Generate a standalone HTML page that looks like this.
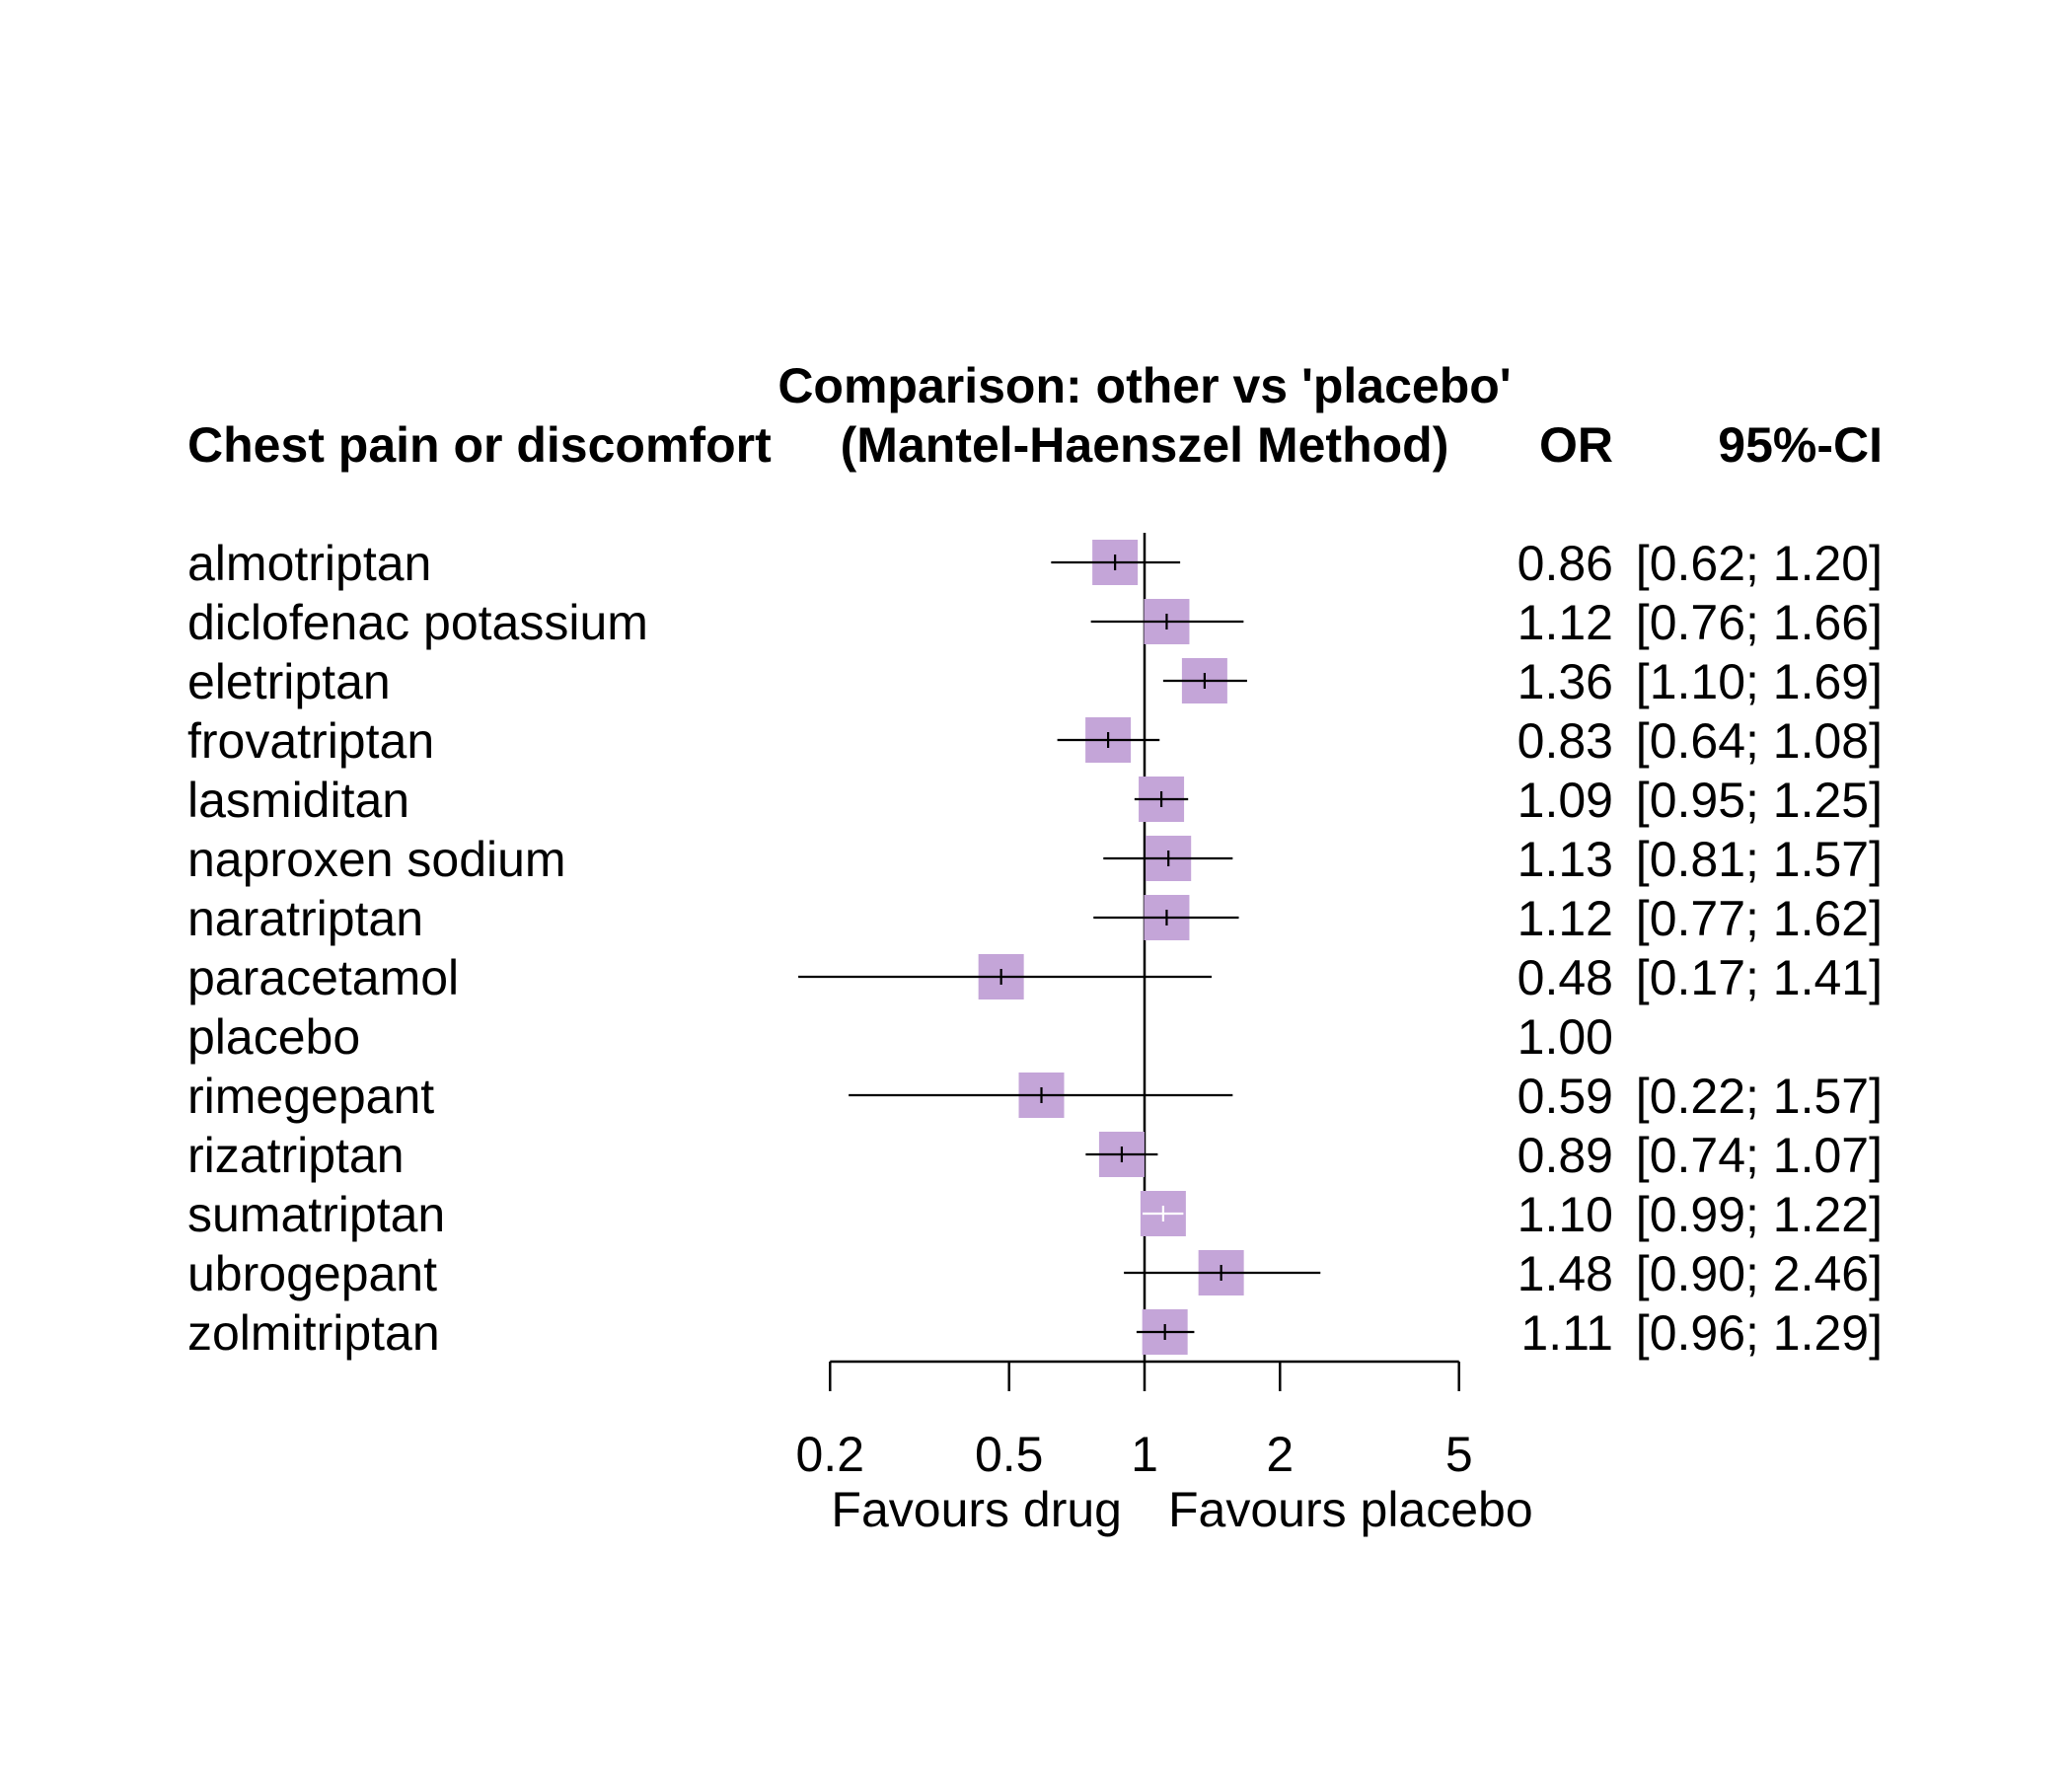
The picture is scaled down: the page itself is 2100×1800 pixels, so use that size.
<!DOCTYPE html>
<html><head><meta charset="utf-8">
<style>
html,body{margin:0;padding:0;background:#fff;}
svg{display:block;font-family:"Liberation Sans",Arial,sans-serif;}
</style></head>
<body>
<svg id="chart" width="2100" height="1800" viewBox="0 0 2100 1800" xmlns="http://www.w3.org/2000/svg">
<text x="1160" y="408" font-size="50" font-weight="bold" text-anchor="middle">Comparison: other vs 'placebo'</text>
<text x="190" y="468" font-size="50" font-weight="bold">Chest pain or discomfort</text>
<text x="1160" y="468" font-size="50" font-weight="bold" text-anchor="middle">(Mantel-Haenszel Method)</text>
<text x="1635" y="468" font-size="50" font-weight="bold" text-anchor="end">OR</text>
<text x="1908" y="468" font-size="50" font-weight="bold" text-anchor="end">95%-CI</text>
<g id="rows"></g>
<g id="axis"></g>
<text x="1137" y="1547" font-size="50" text-anchor="end">Favours drug</text>
<text x="1184" y="1547" font-size="50">Favours placebo</text>
</svg>
<script>
const treatments = ["almotriptan","diclofenac potassium","eletriptan","frovatriptan","lasmiditan","naproxen sodium","naratriptan","paracetamol","placebo","rimegepant","rizatriptan","sumatriptan","ubrogepant","zolmitriptan"];
const orValues = [0.86,1.12,1.36,0.83,1.09,1.13,1.12,0.48,1.00,0.59,0.89,1.10,1.48,1.11];
const ciLower = [0.62,0.76,1.10,0.64,0.95,0.81,0.77,0.17,null,0.22,0.74,0.99,0.90,0.96];
const ciUpper = [1.20,1.66,1.69,1.08,1.25,1.57,1.62,1.41,null,1.57,1.07,1.22,2.46,1.29];
const ticks = [0.2,0.5,1,2,5];
const tickLabels = ["0.2","0.5","1","2","5"];

const NS="http://www.w3.org/2000/svg";
const X0=1160, DEC=456, ROW0=570, STEP=60.0, BOX=46;
function xScale(v){return X0+Math.log10(v)*DEC;}
function yRow(i){return ROW0+i*STEP;}
function mk(tag,attrs,parent){const e=document.createElementNS(NS,tag);for(const k in attrs)e.setAttribute(k,attrs[k]);parent.appendChild(e);return e;}
const rows=document.getElementById('rows');
const axis=document.getElementById('axis');

const ref=mk('line',{x1:xScale(1),x2:xScale(1),y1:540,y2:1380,stroke:'#000','stroke-width':2.5},rows);



treatments.forEach((t,i)=>{
  const y=yRow(i);
  const lab=mk('text',{x:190,y:y+18,'font-size':50},rows);lab.textContent=t;
  
  
  const orT=mk('text',{x:1635,y:y+18,'font-size':50,'text-anchor':'end'},rows);orT.textContent=orValues[i].toFixed(2);
  
  
  if(ciLower[i]!==null){
    const ciT=mk('text',{x:1908,y:y+18,'font-size':50,'text-anchor':'end'},rows);
    ciT.textContent='['+ciLower[i].toFixed(2)+'; '+ciUpper[i].toFixed(2)+']';
    
    
    const cx=xScale(orValues[i]);
    const sq=mk('rect',{x:cx-BOX/2,y:y-BOX/2,width:BOX,height:BOX,fill:'#c4a5d8'},rows);
    
    
    const lx=xScale(ciLower[i]), ux=xScale(ciUpper[i]);
    const inside = lx>=cx-BOX/2 && ux<=cx+BOX/2;
    const col = inside?'#fff':'#000';
    const ln=mk('line',{x1:lx,x2:ux,y1:y,y2:y,stroke:col,'stroke-width':2.2},rows);
    
    
    const tk=mk('line',{x1:cx,x2:cx,y1:y-8,y2:y+8,stroke:col,'stroke-width':2.2},rows);
    
    
  }
});

const al=mk('line',{x1:xScale(ticks[0]),x2:xScale(ticks[ticks.length-1]),y1:1380,y2:1380,stroke:'#000','stroke-width':2.5},axis);


ticks.forEach((v,i)=>{
  const x=xScale(v);
  const tl=mk('line',{x1:x,x2:x,y1:1380,y2:1410,stroke:'#000','stroke-width':2.5},axis);
  
  
  const tt=mk('text',{x:x,y:1491,'font-size':50,'text-anchor':'middle'},axis);tt.textContent=tickLabels[i];
  
  
});
</script>
</body></html>
